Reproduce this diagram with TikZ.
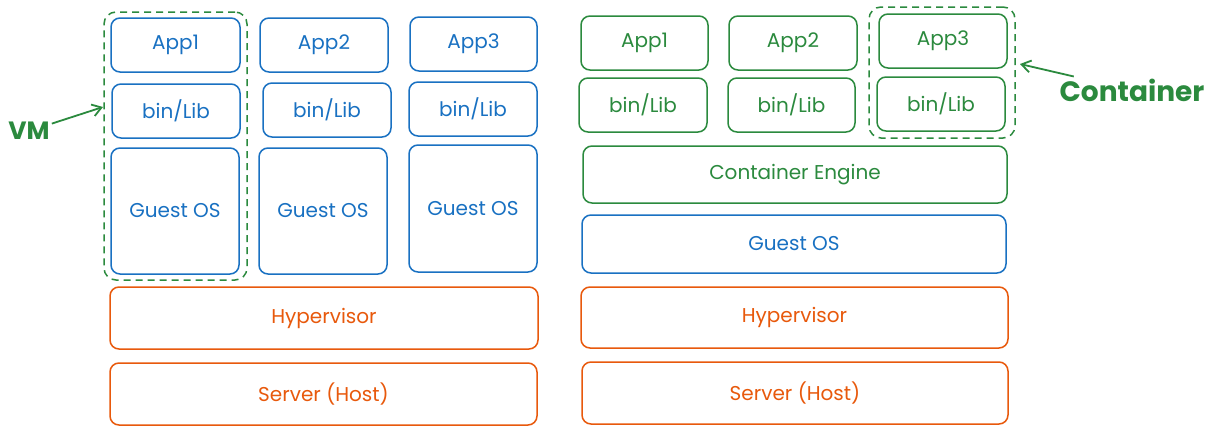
\documentclass[tikz,border=0pt]{standalone}
\usepackage{fontspec}
\setmainfont{Poppins}
\usetikzlibrary{fit,arrows.meta}
\definecolor{exblue}{HTML}{1971C2}
\definecolor{exgreen}{HTML}{2B8A3E}
\definecolor{exorange}{HTML}{E8590C}
\tikzset{
  box/.style={draw=#1, text=#1, line width=1.5pt, rounded corners=9pt,
    inner sep=0pt, outer sep=0pt, font=\fontsize{20}{22}\selectfont},
  bluebox/.style={box=exblue},
  greenbox/.style={box=exgreen},
  orangebox/.style={box=exorange},
  sz/.style 2 args={minimum width=#1pt, minimum height=#2pt},
  group/.style={draw=exgreen, line width=1.5pt, dash pattern=on 7pt off 5pt,
    rounded corners=12pt},
  biglabel/.style={text=exgreen, font=\fontsize{28}{30}\selectfont\bfseries, inner sep=2pt},
  pointer/.style={draw=exgreen, line width=1.8pt, -{Straight Barb[length=9pt,width=12pt]}}
}
\begin{document}
\begin{tikzpicture}[x=1pt,y=-1pt]
\useasboundingbox[fill=white] (0,0) rectangle (1210,431);
% ---- VM stack ----
\node[bluebox, sz={129}{54}] (a1) at (175.5,45) {App1};
\node[bluebox, sz={128}{54}] (a2) at (324,45) {App2};
\node[bluebox, sz={127}{54}] (a3) at (473.5,44) {App3};
\node[bluebox, sz={128}{54}] (b1) at (176,111) {bin/Lib};
\node[bluebox, sz={128}{54}] (b2) at (327,110) {bin/Lib};
\node[bluebox, sz={128}{54}] (b3) at (473,109) {bin/Lib};
\node[bluebox, sz={128}{126}] (g1) at (175,211) {Guest OS};
\node[bluebox, sz={128}{126}] (g2) at (323,211) {Guest OS};
\node[bluebox, sz={128}{127}] (g3) at (473,208.5) {Guest OS};
\node[orangebox, sz={428}{62}] (h1) at (324,318) {Hypervisor};
\node[orangebox, sz={427}{62}] (s1) at (323.5,394) {Server (Host)};
\node[group, fit=(a1)(g1), inner xsep=7pt, inner ysep=6pt] (vm) {};
\node[biglabel, font=\fontsize{25}{27}\selectfont\bfseries] (vmlabel) at (29,131) {VM};
\coordinate (vmtip) at (103,107);
\draw[pointer] (vmlabel) -- (vmtip);
% ---- Container stack ----
\node[greenbox, sz={127}{54}] (c1) at (644.5,43) {App1};
\node[greenbox, sz={128}{54}] (c2) at (793,43) {App2};
\node[greenbox, sz={128}{54}] (c3) at (943,41) {App3};
\node[greenbox, sz={128}{54}] (d1) at (643,105) {bin/Lib};
\node[greenbox, sz={127}{54}] (d2) at (791.5,105) {bin/Lib};
\node[greenbox, sz={128}{54}] (d3) at (941,104) {bin/Lib};
\node[greenbox, sz={424}{57}] (ce) at (795,174.5) {Container Engine};
\node[bluebox, sz={424}{58}] (cg) at (794,244) {Guest OS};
\node[orangebox, sz={427}{61}] (h2) at (794.5,317.5) {Hypervisor};
\node[orangebox, sz={426}{62}] (s2) at (795,393) {Server (Host)};
\node[group, fit=(c3)(d3), inner xsep=8pt, inner ysep=7pt] (ct) {};
\node[biglabel] (ctlabel) at (1132,90) {Container};
\coordinate (cttip) at (1020,64);
\draw[pointer] (ctlabel) -- (cttip);
\end{tikzpicture}
\end{document}
